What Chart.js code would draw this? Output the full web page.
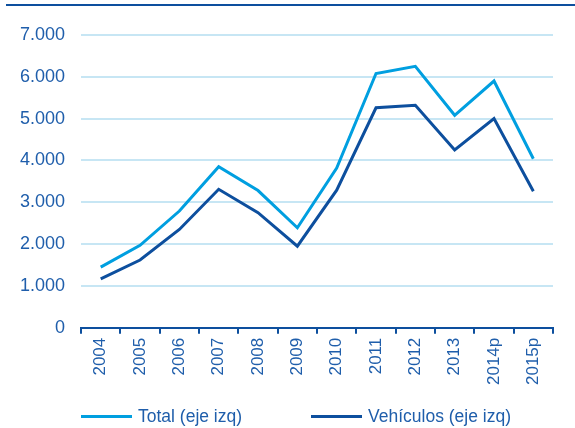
<!DOCTYPE html>
<html>
<head>
<meta charset="utf-8">
<script src="https://cdn.jsdelivr.net/npm/chart.js@4"></script>
<style>
  body { margin: 0; background: #fff; }
  #wrap { position: relative; width: 575px; height: 428px; font-family: 'Liberation Sans', Arial, sans-serif; }
  #topline { position: absolute; left: 6px; right: 0; top: 4px; height: 2px; background: #0d4f9e; }
  #mycanvas { position: absolute; left: 0; top: 0; }
  .leyenda { position: absolute; top: 404px; height: 24px; font-size: 17.5px; color: #1f5eab; line-height: 24px; white-space: nowrap; }
  .leyenda span.linea { display: inline-block; width: 51px; height: 3px; vertical-align: middle; margin-right: 6px; position: relative; top: -1px; }
</style>
</head>
<body>
<div id="wrap">
  <div id="topline"></div>
  <canvas id="mycanvas" width="575" height="428"></canvas>
  <div id="legend"></div>
</div>
<script>
var years = ["2004", "2005", "2006", "2007", "2008", "2009", "2010", "2011", "2012", "2013", "2014p", "2015p"];
var total = [1450, 1970, 2790, 3850, 3280, 2390, 3820, 6080, 6250, 5080, 5900, 4040];
var vehiculos = [1170, 1620, 2350, 3310, 2750, 1950, 3290, 5260, 5320, 4250, 5000, 3265];
var yTicks = [0, 1000, 2000, 3000, 4000, 5000, 6000, 7000];

var azul = '#0d4f9e';
var celeste = '#009fe0';
var texto = '#1f5eab';

function miles(v) {
	return v.toString().replace(/\B(?=(\d{3})+(?!\d))/g, '.');
}

Chart.defaults.font.family = 'Liberation Sans, Arial, sans-serif';
Chart.defaults.font.size = 17;
Chart.defaults.color = texto;

var ctx = document.getElementById('mycanvas');
var lineGraph = new Chart(ctx, {
	type: 'line',
	data: {
		labels: years,
		datasets: [
			{
				label: 'Total (eje izq)',
				data: total,
				borderColor: celeste,
				backgroundColor: celeste,
				borderWidth: 3,
				pointRadius: 0,
				tension: 0
			},
			{
				label: 'Vehículos (eje izq)',
				data: vehiculos,
				borderColor: azul,
				backgroundColor: azul,
				borderWidth: 3,
				pointRadius: 0,
				tension: 0
			}
		]
	},
	options: {
		responsive: false,
		animation: false,
		layout: { padding: { left: 4, right: 22, top: 35, bottom: 39 } },
		plugins: {
			tooltip: { enabled: false },
			legend: { display: false }
		},
		scales: {
			x: {
				offset: true,
				border: { color: azul, width: 2 },
				grid: {
					offset: true,
					drawOnChartArea: false,
					color: azul,
					lineWidth: 2,
					tickLength: 6
				},
				ticks: {
					minRotation: 90,
					maxRotation: 90,
					autoSkip: false,
					color: texto,
					padding: 4
				}
			},
			y: {
				min: 0,
				max: 7000,
				afterBuildTicks: function(axis) {
					axis.ticks = yTicks.map(function(v) { return { value: v }; });
				},
				border: { display: false },
				grid: {
					color: '#c7e6f4',
					lineWidth: 2,
					drawTicks: false
				},
				ticks: {
					autoSkip: false,
					padding: 16,
					color: texto,
					font: { size: 18 },
					callback: function(v) { return miles(v); }
				}
			}
		}
	}
});

// leyenda en HTML, con los colores de cada serie
var legendX = [81, 311];
var legend = document.getElementById('legend');
lineGraph.data.datasets.forEach(function(ds, i) {
	var item = document.createElement('div');
	item.className = 'leyenda';
	item.style.left = legendX[i] + 'px';
	var linea = document.createElement('span');
	linea.className = 'linea';
	linea.style.background = ds.borderColor;
	item.appendChild(linea);
	item.appendChild(document.createTextNode(ds.label));
	legend.appendChild(item);
});
</script>
</body>
</html>
